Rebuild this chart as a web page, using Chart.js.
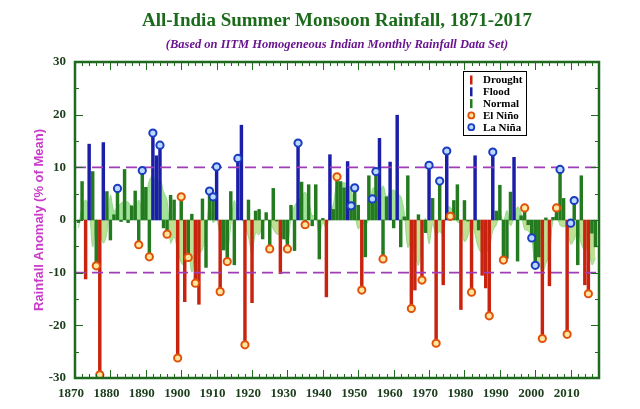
<!DOCTYPE html>
<html>
<head>
<meta charset="utf-8">
<script src="https://cdn.jsdelivr.net/npm/chart.js@4.4.1/dist/chart.umd.min.js"></script>
<style>
  html, body { margin: 0; padding: 0; background: #fff; }
  #wrap { width: 640px; height: 409px; position: relative; }
</style>
</head>
<body>
<div id="wrap"><canvas id="myChart"></canvas></div>
<script>
// All-India summer monsoon rainfall anomaly (% of mean), 1871-2017
var firstYear = 1871;
var rainfall = [
  -0.5, 7.3, -11.2, 14.4, 9.2, -8.7, -29.4, 14.7, 5.4, -3.8,        // 1871-1880
  1.0, 6.0, -0.3, 9.6, -0.5, 2.7, 5.5, -4.7, 9.4, 6.2,              // 1881-1890
  -7.0, 16.5, 12.2, 14.2, -1.5, -2.7, 4.7, 3.8, -26.2, 4.4,         // 1891-1900
  -15.5, -7.1, 1.1, -12.0, -16.0, 4.0, -9.0, 5.5, 4.4, 10.1,        // 1901-1910
  -13.6, -5.7, -7.9, 5.4, -8.5, 11.7, 18.0, -23.7, 3.8, -15.7,      // 1911-1920
  1.7, 2.0, -3.6, 1.4, -5.5, 6.0, -0.2, -10.2, -3.6, -5.5,          // 1921-1930
  2.8, -5.8, 14.6, 7.2, -0.9, 6.7, -1.1, 6.7, -7.4, 0.3,            // 1931-1940
  -14.6, 12.4, 2.0, 8.2, 7.3, 6.1, 11.1, 2.7, 6.1, 2.8,             // 1941-1950
  -13.3, -7.0, 8.4, 4.0, 9.2, 15.5, -7.4, 4.4, 11.0, -1.5,          // 1951-1960
  19.9, -5.1, 0.6, 8.4, -16.8, -13.3, 1.0, -11.4, -2.4, 10.4,       // 1961-1970
  4.1, -23.4, 7.4, -12.3, 13.1, 0.7, 3.7, 6.7, -17.0, 3.7,          // 1971-1980
  -0.2, -13.7, 12.2, -1.9, -10.5, -12.9, -18.2, 12.9, 1.7, 6.6,     // 1981-1990
  -7.6, -7.3, 5.3, 11.9, -7.8, 0.8, 2.3, -0.9, -3.4, -8.6,          // 1991-2000
  -7.0, -22.5, 0.4, -12.5, 0.5, 2.3, 9.6, 4.1, -21.7, -0.6,         // 2001-2010
  3.7, -8.5, 8.4, -12.3, -14.0, -2.5, -5.1                          // 2011-2017
];
// light green smoothed band
var smoothed = [
  -1.5, 2.5, 3.8, 2.2, -5.1, 0.0, -1.8, -4.4, -2.4, 4.7,
  1.7, 2.5, 3.2, 3.5, 3.4, 2.5, 2.5, 3.8, 1.9, 4.1,
  7.5, 8.4, 6.9, 7.7, 5.4, 3.7, -4.4, -3.2, -5.8, -8.1,
  -8.7, -5.8, -9.9, -6.0, -6.4, -5.5, -2.2, 3.0, -0.5, 0.1,
  -2.5, -2.3, -6.1, -1.0, 3.7, 0.6, 0.3, -1.2, -3.2, -6.4,
  -2.4, -2.8, -0.8, 0.1, -0.4, -1.7, -2.7, -2.7, -3.3, -4.5,
  0.5, 2.7, 3.6, 4.4, 5.3, 3.7, 0.8, 1.0, -3.2, -0.5,
  -1.5, 1.7, 3.1, 7.2, 6.9, 7.1, 6.7, 5.8, 1.9, -1.7,
  -0.6, -1.0, 0.3, 6.0, 5.9, 5.1, 6.5, 4.4, 5.3, 5.7,
  5.0, 4.5, 1.4, -5.2, -4.0, -6.4, -8.6, -3.1, 0.3, -4.5,
  -0.8, -2.8, -2.2, -2.9, 2.5, 2.4, 1.4, -0.4, -0.6, -4.1,
  -3.0, 0.0, -2.8, -5.4, -6.3, -6.1, -5.4, -2.0, -0.9, 1.3,
  -0.3, 1.8, -1.1, 0.6, 2.5, 1.3, -1.8, -2.0, -3.5, -8.5,
  -8.2, -10.0, -8.2, -6.4, 0.1, 0.8, -1.0, -1.3, -1.0, -4.6,
  -3.7, -1.9, -4.5, -5.8, -5.1, -8.5, -7.2
];
var elNinoYears = [1876, 1877, 1888, 1891, 1896, 1899, 1900, 1902, 1904, 1911, 1913, 1918,
  1925, 1930, 1935, 1944, 1951, 1957, 1965, 1968, 1972, 1976, 1982, 1987, 1991, 1997,
  2002, 2006, 2009, 2015];
var laNinaYears = [1882, 1889, 1892, 1894, 1908, 1909, 1910, 1916, 1933, 1948, 1949, 1954,
  1955, 1970, 1973, 1975, 1988, 1999, 2000, 2007, 2010, 2011];
var xLabels = [1870, 1880, 1890, 1900, 1910, 1920, 1930, 1940, 1950, 1960, 1970, 1980, 1990, 2000, 2010];
var yLabels = [-30, -20, -10, 0, 10, 20, 30];
var dashLevels = [10, -10];

var xMin = 1870, xMax = 2018;

function yearOf(i) { return firstYear + i; }
function barPoints(test) {
  var out = [];
  rainfall.forEach(function (v, i) { if (test(v)) out.push({ x: yearOf(i), y: v }); });
  return out;
}
function ensoPoints(list) {
  return list.map(function (yr) { return { x: yr, y: rainfall[yr - firstYear] }; });
}

var droughtPts = barPoints(function (v) { return v < -10; });
var floodPts = barPoints(function (v) { return v > 10; });
var normalPts = barPoints(function (v) { return v >= -10 && v <= 10; });
var smoothPts = smoothed.map(function (v, i) { return { x: yearOf(i), y: v }; });

var serif = "'Liberation Serif', 'Times New Roman', serif";
var sans = "'Liberation Sans', Arial, sans-serif";
var frameGreen = '#1f6a1f';

var legendItems = [
  { label: 'Drought', kind: 'bar', color: '#c8230f' },
  { label: 'Flood', kind: 'bar', color: '#1b1fa8' },
  { label: 'Normal', kind: 'bar', color: '#237a1f' },
  { label: 'El Niño', kind: 'dot', color: '#e0520a', fill: '#ffe6a0' },
  { label: 'La Niña', kind: 'dot', color: '#1a3cc0', fill: '#bcd8ff' }
];

var decorPlugin = {
  id: 'decor',
  afterDatasetsDraw: function (chart) {
    var ctx = chart.ctx, a = chart.chartArea;
    var xs = chart.scales.x, ys = chart.scales.y;
    ctx.save();
    // inward ticks
    ctx.strokeStyle = frameGreen;
    ctx.lineWidth = 1;
    ctx.beginPath();
    for (var yr = xMin; yr <= xMax; yr += 2) {
      var px = Math.round(xs.getPixelForValue(yr)) + 0.5;
      var len = yr % 10 === 0 ? 8 : 4;
      ctx.moveTo(px, a.bottom); ctx.lineTo(px, a.bottom - len);
      ctx.moveTo(px, a.top); ctx.lineTo(px, a.top + len);
    }
    for (var v = -30; v <= 30; v += 5) {
      var py = Math.round(ys.getPixelForValue(v)) + 0.5;
      var l2 = v % 10 === 0 ? 8 : 4;
      ctx.moveTo(a.left, py); ctx.lineTo(a.left + l2, py);
      ctx.moveTo(a.right, py); ctx.lineTo(a.right - l2, py);
    }
    ctx.stroke();
    // frame
    ctx.lineWidth = 2.5;
    ctx.strokeRect(a.left, a.top, a.right - a.left, a.bottom - a.top);

    // legend box
    var bx = 463, by = 71, bw = 63, bh = 64;
    ctx.fillStyle = '#fff';
    ctx.fillRect(bx, by, bw, bh);
    ctx.strokeStyle = '#000';
    ctx.lineWidth = 1;
    ctx.strokeRect(bx + 0.5, by + 0.5, bw, bh);
    ctx.font = 'bold 11px ' + serif;
    ctx.textBaseline = 'middle';
    ctx.textAlign = 'left';
    legendItems.forEach(function (it, i) {
      var cy = by + 9 + i * 11.8;
      if (it.kind === 'bar') {
        ctx.fillStyle = it.color;
        ctx.fillRect(bx + 7, cy - 4.5, 2.5, 9);
      } else {
        ctx.beginPath();
        ctx.arc(bx + 8.3, cy, 3, 0, Math.PI * 2);
        ctx.fillStyle = it.fill;
        ctx.fill();
        ctx.lineWidth = 1.8;
        ctx.strokeStyle = it.color;
        ctx.stroke();
      }
      ctx.fillStyle = '#000';
      ctx.fillText(it.label, bx + 20, cy + 0.5);
    });

    // titles
    var cx = (a.left + a.right) / 2;
    ctx.textAlign = 'center';
    ctx.fillStyle = '#1c6b1c';
    ctx.font = 'bold 19px ' + serif;
    ctx.fillText('All-India Summer Monsoon Rainfall, 1871-2017', cx, 21);
    ctx.fillStyle = '#6a1590';
    ctx.font = 'italic bold 12.5px ' + serif;
    ctx.fillText('(Based on IITM Homogeneous Indian Monthly Rainfall Data Set)', cx, 45);

    // y axis title
    ctx.translate(39, (a.top + a.bottom) / 2);
    ctx.rotate(-Math.PI / 2);
    ctx.fillStyle = '#c83cc8';
    ctx.font = 'bold 13px ' + sans;
    ctx.fillText('Rainfall Anomaly (% of Mean)', 0, 0);
    ctx.restore();
  }
};

function dashSet(level) {
  return {
    type: 'line',
    data: [{ x: xMin, y: level }, { x: xMax, y: level }],
    borderColor: '#a03cb8',
    borderWidth: 1.8,
    borderDash: [11, 6],
    pointRadius: 0,
    fill: false,
    order: 3
  };
}

var datasets = [
  {
    type: 'line', label: 'Smoothed', data: smoothPts,
    borderColor: '#93d98b', borderWidth: 1, pointRadius: 0, tension: 0.35,
    fill: { target: 'origin', above: '#a2e29a', below: '#bfdf92' },
    order: 10
  },
  { type: 'bar', label: 'Drought', data: droughtPts, backgroundColor: '#c8230f', order: 5 },
  { type: 'bar', label: 'Flood', data: floodPts, backgroundColor: '#1b1fa8', order: 5 },
  { type: 'bar', label: 'Normal', data: normalPts, backgroundColor: '#237a1f', order: 5 }
];
dashLevels.forEach(function (lv) { datasets.push(dashSet(lv)); });
datasets.push({
  type: 'line', label: 'El Niño', data: ensoPoints(elNinoYears), showLine: false,
  pointRadius: 3.6, pointBorderWidth: 2, pointBorderColor: '#e0520a', pointBackgroundColor: '#ffe6a0',
  order: 1
});
datasets.push({
  type: 'line', label: 'La Niña', data: ensoPoints(laNinaYears), showLine: false,
  pointRadius: 3.6, pointBorderWidth: 2, pointBorderColor: '#1a3cc0', pointBackgroundColor: '#bcd8ff',
  order: 1
});

new Chart(document.getElementById('myChart'), {
  type: 'bar',
  data: { datasets: datasets },
  options: {
    responsive: true,
    maintainAspectRatio: false,
    animation: false,
    devicePixelRatio: 1,
    layout: { padding: { top: 62, right: 41, left: 0, bottom: 0 } },
    datasets: { bar: { barThickness: 2.8, grouped: false } },
    plugins: { legend: { display: false }, tooltip: { enabled: false }, title: { display: false } },
    scales: {
      x: {
        type: 'linear', min: xMin, max: xMax, offset: false,
        grid: { display: false, offset: false }, border: { display: false },
        afterFit: function (s) { s.height = 31; },
        afterBuildTicks: function (s) { s.ticks = xLabels.map(function (v) { return { value: v }; }); },
        ticks: {
          autoSkip: false, maxRotation: 0, padding: 0, labelOffset: -4,
          color: '#1b3d1b', font: { family: serif, weight: 'bold', size: 13 },
          callback: function (v) { return String(v); }
        }
      },
      y: {
        min: -30, max: 30,
        grid: { display: false }, border: { display: false },
        afterFit: function (s) { s.width = 75; },
        afterBuildTicks: function (s) { s.ticks = yLabels.map(function (v) { return { value: v }; }); },
        ticks: {
          padding: 1,
          color: '#1b3d1b', font: { family: serif, weight: 'bold', size: 13 }
        }
      }
    }
  },
  plugins: [decorPlugin]
});
</script>
</body>
</html>
